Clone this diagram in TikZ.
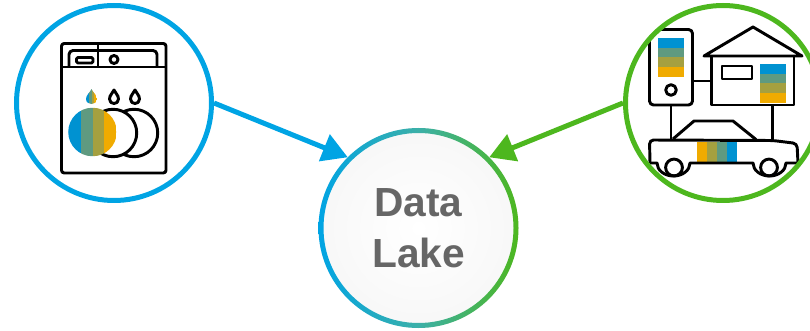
\documentclass[tikz,border=0pt]{standalone}
\usepackage{fontspec}
\setmainfont{Liberation Sans}
\usetikzlibrary{arrows.meta}
\definecolor{sapblue}{HTML}{00A4E4}
\definecolor{sapgreen}{HTML}{4DB71E}
\definecolor{sapteal}{HTML}{3CB0A8}
\definecolor{band1}{HTML}{0092D1}
\definecolor{band2}{HTML}{5F9A80}
\definecolor{band3}{HTML}{A5A040}
\definecolor{band4}{HTML}{F0AB00}
\tikzset{
  ring1/.style = {
    shape = circle,
    draw = #1,
    line width = 3.75pt,
    minimum size = 146.25pt,
    inner sep = 0pt,
  }
}
\tikzset{
  arrow1/.style = {
    draw = #1, line width = 3.75pt, -{Triangle[length = 19pt, width = 21pt]},
  }
}
\tikzset{
  icon1/.style = {
    draw = black, line width = 2.2pt, line join = round,
  }
}

\begin{document}
\begin{tikzpicture}[x = 0.75pt, y = -0.75pt]
        \clip (0,0) rectangle (810,331);
        \node[ring1 = sapblue](washer) at (114,103){};
        \node[shape = circle, minimum size = 150pt, inner sep = 0pt, outer sep = 0pt, align = center,
          inner color = white, outer color = black!3, text = black!60,
          font = \fontsize{30.5}{38.5}\selectfont\bfseries](lake) at (418.5,228){Data\\Lake};
        \shade[left color = sapblue, right color = sapgreen, middle color = sapteal, even odd rule]
          (lake.center) circle (75pt) circle (71.25pt);
        % washer
        \draw[icon1, rounded corners = 2pt] (61.5,43.5) rectangle (166,173);
        \draw[icon1] (61.5,67) -- (166,67);
        \draw[icon1] (98,43.5) -- (98,67);
        \draw[icon1, rounded corners = 3pt] (69,67) -- (69,50.5) -- (157,50.5) -- (157,67);
        \draw[icon1, rounded corners = 1pt] (76.5,57.5) rectangle (93,63);
        \draw[icon1] (114,59.5) circle (3pt);
        \foreach \x in {114,135}{
          \draw[icon1, shift = {(\x,89)}] (0,1) .. controls (-1,4) and (-4.5,6) .. (-4.5,10)
            .. controls (-4.5,13) and (-2.5,14.5) .. (0,14.5)
            .. controls (2.5,14.5) and (4.5,13) .. (4.5,10)
            .. controls (4.5,6) and (1,4) .. (0,1) -- cycle;
        }
        \draw[icon1] (134,133) circle (17.8pt);
        \draw[icon1, fill = white] (113,133) circle (17.8pt);
        \begin{scope}
          \clip (92.5,132) circle (18.2pt);
          \fill[band1] (68,100) rectangle (80.7,170);
          \fill[band2] (80.7,100) rectangle (92.7,170);
          \fill[band3] (92.7,100) rectangle (104.3,170);
          \fill[band4] (104.3,100) rectangle (117,170);
        \end{scope}
        \begin{scope}
          \clip[shift = {(91.5,89)}] (0,0) .. controls (-1.5,3.5) and (-5.5,6) .. (-5.5,10)
            .. controls (-5.5,13.5) and (-2.5,15) .. (0,15)
            .. controls (2.5,15) and (5.5,13.5) .. (5.5,10)
            .. controls (5.5,6) and (1.5,3.5) .. (0,0) -- cycle;
          \fill[band1] (86,89) rectangle (89,104);
          \fill[band2] (89,89) rectangle (91.5,104);
          \fill[band3] (91.5,89) rectangle (94,104);
          \fill[band4] (94,89) rectangle (97,104);
        \end{scope}
        % phone, house, car
        \begin{scope}
          \clip (723,103) circle (73pt);
          \draw[icon1, rounded corners = 3pt] (649.5,29.5) rectangle (692.5,105);
          \foreach \y/\c in {38/band1, 47.7/band2, 57.3/band3, 67/band4}{
            \fill[\c] (658,\y) rectangle (684,\y+9.8);
          }
          \draw[icon1] (671,90) circle (4pt);
          \draw[icon1] (692.5,81) -- (711.5,81);
          \draw[icon1] (711.5,56) -- (711.5,105) -- (794,105) -- (794,56);
          \draw[icon1] (704,56) -- (753,27) -- (802,56) -- cycle;
          \draw[icon1] (722,66) rectangle (752,79);
          \foreach \y/\c in {64/band1, 73.7/band2, 83.3/band3, 93/band4}{
            \fill[\c] (760,\y) rectangle (786,\y+9.8);
          }
          \draw[icon1] (671,105) -- (671,140);
          \draw[icon1] (772.5,105) -- (772.5,141);
          \draw[icon1] (673,139) -- (694,121) -- (733,121) -- (756,139.5);
          \foreach \x/\c in {697.3/band4, 707.2/band3, 717/band2, 726.8/band1}{
            \fill[\c] (\x,142) rectangle (\x+9.9,162);
          }
          \draw[icon1, rounded corners = 3pt] (650,163) -- (649.5,140) -- (773,140.5) -- (797,143.5) -- (798,163);
          \draw[icon1] (650,163) -- (657,163) arc (180:360:16.5 and -13) -- (753,163) arc (180:360:16.5 and -13) -- (798,163);
          \draw[icon1] (674,167.5) circle (6.3pt);
          \draw[icon1] (769,167.5) circle (6.3pt);
        \end{scope}
        \node[ring1 = sapgreen](home) at (723,103){};
        \draw[arrow1 = sapblue](washer.east) -- (lake.north west);
        \draw[arrow1 = sapgreen](home.west) -- (lake.north east);
    \end{tikzpicture}
\end{document}
